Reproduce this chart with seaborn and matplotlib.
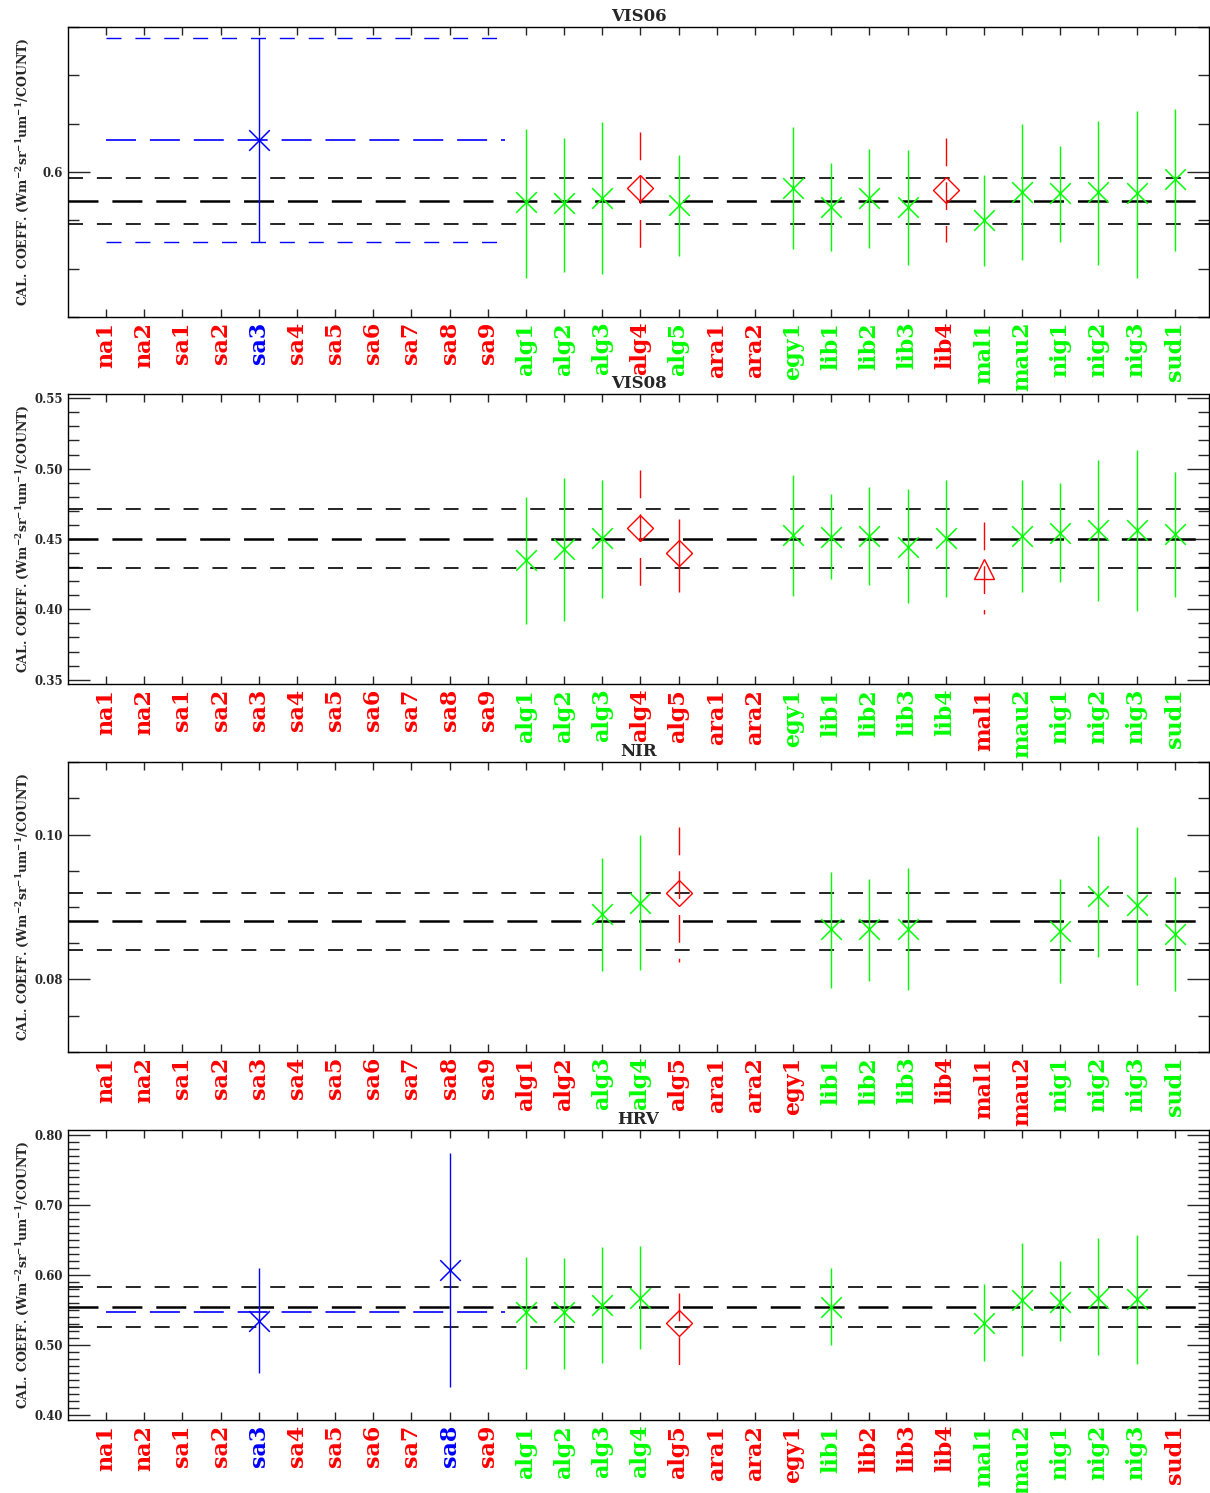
import matplotlib
matplotlib.use('Agg')
import matplotlib.pyplot as plt
from matplotlib.ticker import MultipleLocator, FormatStrFormatter
import seaborn as sns
import pandas as pd

# sites along the x axis
sites = ['na1', 'na2', 'sa1', 'sa2', 'sa3', 'sa4', 'sa5', 'sa6', 'sa7', 'sa8', 'sa9',
         'alg1', 'alg2', 'alg3', 'alg4', 'alg5', 'ara1', 'ara2', 'egy1',
         'lib1', 'lib2', 'lib3', 'lib4', 'mal1', 'mau2', 'nig1', 'nig2', 'nig3', 'sud1']

# VIS06
vis06_names = ['sa3', 'alg1', 'alg2', 'alg3', 'alg4', 'alg5', 'egy1', 'lib1', 'lib2', 'lib3',
               'lib4', 'mal1', 'mau2', 'nig1', 'nig2', 'nig3', 'sud1']
vis06_val = [0.6134, 0.5877, 0.5873, 0.5893, 0.5934, 0.5862, 0.5935, 0.5856, 0.5893, 0.5856,
             0.5927, 0.5802, 0.5918, 0.5914, 0.5917, 0.5914, 0.5972]
vis06_low = [0.5710, 0.5561, 0.5588, 0.5577, 0.5683, 0.5653, 0.5682, 0.5675, 0.5686, 0.5616,
             0.5712, 0.5612, 0.5636, 0.5712, 0.5617, 0.5561, 0.5675]
vis06_high = [0.6556, 0.6180, 0.6142, 0.6207, 0.6166, 0.6069, 0.6188, 0.6039, 0.6097, 0.6092,
              0.6142, 0.5989, 0.6197, 0.6109, 0.6210, 0.6253, 0.6262]
vis06_kind = ['ref', 'good', 'good', 'good', 'bad', 'good', 'good', 'good', 'good', 'good',
              'bad', 'good', 'good', 'good', 'good', 'good', 'good']
vis06_mean, vis06_band = 0.5881, [0.5784, 0.5975]
vis06_ref_mean, vis06_ref_band = 0.6134, [0.5710, 0.6556]

# VIS08
vis08_names = ['alg1', 'alg2', 'alg3', 'alg4', 'alg5', 'egy1', 'lib1', 'lib2', 'lib3', 'lib4',
               'mal1', 'mau2', 'nig1', 'nig2', 'nig3', 'sud1']
vis08_val = [0.4350, 0.4427, 0.4505, 0.4576, 0.4398, 0.4529, 0.4517, 0.4521, 0.4445, 0.4505,
             0.4284, 0.4521, 0.4545, 0.4564, 0.4564, 0.4533]
vis08_low = [0.3899, 0.3916, 0.4084, 0.4167, 0.4120, 0.4096, 0.4213, 0.4170, 0.4042, 0.4089,
             0.3970, 0.4124, 0.4191, 0.4060, 0.3989, 0.4089]
vis08_high = [0.4801, 0.4930, 0.4921, 0.4987, 0.4640, 0.4956, 0.4821, 0.4868, 0.4854, 0.4921,
              0.4623, 0.4916, 0.4901, 0.5063, 0.5134, 0.4975]
vis08_kind = ['good', 'good', 'good', 'bad', 'poor', 'good', 'good', 'good', 'good', 'good',
              'low', 'good', 'good', 'good', 'good', 'good']
vis08_mean, vis08_band = 0.4500, [0.4293, 0.4714]

# NIR
nir_names = ['alg3', 'alg4', 'alg5', 'lib1', 'lib2', 'lib3', 'nig1', 'nig2', 'nig3', 'sud1']
nir_val = [0.0891, 0.0906, 0.0919, 0.0869, 0.0869, 0.0869, 0.0867, 0.0915, 0.0903, 0.0863]
nir_low = [0.0812, 0.0813, 0.0824, 0.0788, 0.0798, 0.0785, 0.0795, 0.0831, 0.0792, 0.0784]
nir_high = [0.0968, 0.0999, 0.1011, 0.0948, 0.0938, 0.0954, 0.0939, 0.0998, 0.1011, 0.0942]
nir_kind = ['good', 'good', 'bad', 'good', 'good', 'good', 'good', 'good', 'good', 'good']
nir_mean, nir_band = 0.0880, [0.0840, 0.0920]

# HRV
hrv_names = ['sa3', 'sa8', 'alg1', 'alg2', 'alg3', 'alg4', 'alg5', 'lib1', 'mal1', 'mau2',
             'nig1', 'nig2', 'nig3']
hrv_val = [0.5347, 0.6071, 0.5471, 0.5471, 0.5570, 0.5676, 0.5310, 0.5547, 0.5319, 0.5643,
           0.5619, 0.5676, 0.5653]
hrv_low = [0.4596, 0.4404, 0.4661, 0.4661, 0.4747, 0.4947, 0.4714, 0.4996, 0.4776, 0.4843,
           0.5053, 0.4857, 0.4729]
hrv_high = [0.6096, 0.7738, 0.6261, 0.6247, 0.6396, 0.6414, 0.5747, 0.6100, 0.5871, 0.6453,
            0.6200, 0.6524, 0.6567]
hrv_kind = ['ref', 'ref', 'good', 'good', 'good', 'good', 'bad', 'good', 'good', 'good',
            'good', 'good', 'good']
hrv_mean, hrv_band = 0.5547, [0.5261, 0.5829]
hrv_ref_mean, hrv_ref_band = 0.5471, []

KIND_COLOR = {'good': '#00ff00', 'ref': '#0000ff', 'bad': '#ff0000', 'poor': '#ff0000', 'low': '#ff0000'}
LONG = (0, (21.6, 10))
SHORT = (0, (10.8, 10))
RED_DASH = (0, (20, 11.5))

sns.set_style('ticks')
plt.rcParams['font.family'] = ['DejaVu Serif']
plt.rcParams['font.weight'] = 'bold'
plt.rcParams['mathtext.fontset'] = 'dejavuserif'
plt.rcParams['mathtext.default'] = 'bf'
plt.rcParams['lines.scale_dashes'] = False


def plot_channel(ax, title, names, val, low, high, kind, mean, band, ylim, major, minor, fmt,
                 ref_mean=None, ref_band=()):
    df = pd.DataFrame({'site': names, 'val': val, 'low': low, 'high': high, 'kind': kind})
    df['pos'] = [sites.index(s) for s in names]

    # reference lines
    ax.axhline(mean, color='black', lw=1.8, ls=LONG, zorder=1)
    for b in band:
        ax.axhline(b, color='black', lw=1.2, ls=SHORT, zorder=1)
    if ref_mean is not None:
        ax.hlines(ref_mean, 0, 10.45, color='#0000ff', lw=1.2, ls=LONG, zorder=1)
        for b in ref_band:
            ax.hlines(b, 0, 10.45, color='#0000ff', lw=1.0, ls=SHORT, zorder=1)

    # error bars, drawn top to bottom
    for k, sub in df.groupby('kind'):
        ls = RED_DASH if k in ('bad', 'low') else '-'
        ax.vlines(sub['pos'], sub['high'], sub['low'], colors=KIND_COLOR[k], lw=1.0,
                  linestyles=ls, zorder=2)

    for k in ('good', 'ref'):
        sub = df[df['kind'] == k]
        if len(sub):
            sns.scatterplot(data=sub, x='pos', y='val', marker='x', color=KIND_COLOR[k],
                            s=220, linewidth=1.1, ax=ax, legend=False, zorder=3)
    sub = df[df['kind'].isin(['bad', 'poor'])]
    ax.plot(sub['pos'], sub['val'], ls='none', marker='D', ms=13.5, mfc='none',
            mec='#ff0000', mew=1.0, zorder=3)
    sub = df[df['kind'] == 'low']
    ax.plot(sub['pos'], sub['val'], ls='none', marker='^', ms=14, mfc='none',
            mec='#ff0000', mew=1.0, zorder=3)

    ax.set_xlim(-1, 28.9)
    ax.set_ylim(*ylim)
    ax.set_xticks(range(len(sites)))
    ax.set_xticklabels(sites, rotation=90, fontsize=16, fontweight='bold')
    colors = dict(zip(names, [KIND_COLOR[k] for k in kind]))
    for lab in ax.get_xticklabels():
        lab.set_color(colors.get(lab.get_text(), '#ff0000'))
    ax.yaxis.set_major_locator(MultipleLocator(major))
    ax.yaxis.set_minor_locator(MultipleLocator(minor))
    ax.yaxis.set_major_formatter(FormatStrFormatter(fmt))
    ax.tick_params(axis='x', direction='in', top=True, bottom=True, length=5.5, width=1, pad=3.5)
    ax.tick_params(axis='y', which='major', direction='in', left=True, right=True,
                   length=16, width=1, pad=3.5, labelsize=8.5)
    ax.tick_params(axis='y', which='minor', direction='in', left=True, right=True,
                   length=8, width=1)
    for s in ax.spines.values():
        s.set_visible(True)
        s.set_color('black')
        s.set_linewidth(1.0)
    ax.set_xlabel('')
    ax.set_ylabel(r'CAL. COEFF. (Wm$^{-2}$sr$^{-1}$um$^{-1}$/COUNT)', fontsize=9, fontweight='bold')
    ax.yaxis.set_label_coords(-0.032, 0.5)
    ax.set_title(title, fontsize=12, fontweight='bold', pad=4)


fig = plt.figure(figsize=(12.1, 14.93), dpi=100)
left, width, height = 0.0562, 0.943, 0.1942
ax1 = fig.add_axes([left, 0.7877, width, height])
ax2 = fig.add_axes([left, 0.5419, width, height])
ax3 = fig.add_axes([left, 0.2954, width, height])
ax4 = fig.add_axes([left, 0.0489, width, height])

plot_channel(ax1, 'VIS06', vis06_names, vis06_val, vis06_low, vis06_high, vis06_kind,
             vis06_mean, vis06_band, (0.540, 0.660), 0.1, 0.02, '%.1f',
             vis06_ref_mean, vis06_ref_band)
plot_channel(ax2, 'VIS08', vis08_names, vis08_val, vis08_low, vis08_high, vis08_kind,
             vis08_mean, vis08_band, (0.347, 0.553), 0.05, 0.01, '%.2f')
plot_channel(ax3, 'NIR', nir_names, nir_val, nir_low, nir_high, nir_kind,
             nir_mean, nir_band, (0.070, 0.110), 0.02, 0.005, '%.2f')
plot_channel(ax4, 'HRV', hrv_names, hrv_val, hrv_low, hrv_high, hrv_kind,
             hrv_mean, hrv_band, (0.393, 0.807), 0.1, 0.01, '%.2f',
             hrv_ref_mean, hrv_ref_band)

fig.savefig('out.png', dpi=100)
